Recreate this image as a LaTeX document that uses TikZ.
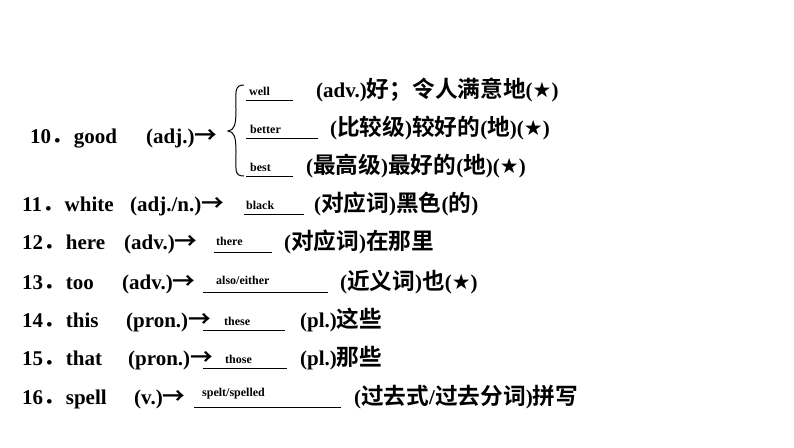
\documentclass[tikz,border=0pt]{standalone}
\usepackage{fontspec}
\setmainfont{Liberation Serif}
\newfontfamily\cjk{Noto Sans CJK SC}[BoldFont={* Bold},Scale=1.08]
\newfontfamily\sym{DejaVu Sans}
\newcommand{\C}[1]{{\cjk\bfseries #1}}
\newcommand{\St}{{\sym ★}}
\newcommand{\Ar}{{\cjk\bfseries →}}
\newcommand{\Dt}{{\cjk\bfseries ．}}
\begin{document}
\begin{tikzpicture}[x=1pt,y=-1pt,
  txt/.style={anchor=base west,inner sep=0pt,font=\fontsize{21}{24}\selectfont\bfseries},
  ans/.style={anchor=base west,inner sep=0pt,font=\fontsize{12}{14}\selectfont\bfseries},
  ul/.style={line width=1pt}]
\useasboundingbox[fill=white] (0,0) rectangle (794,447);
% row 10
\node[txt] (n10) at (30,143) {10\Dt good};
\node[txt] (p10) at (146,143) {(adj.)\Ar};
\draw[line width=1pt] (244,85) .. controls (234,85) and (236,92) .. (236,110) .. controls (236,126) and (234,130) .. (228,131) .. controls (234,132) and (236,136) .. (236,152) .. controls (236,170) and (234,176) .. (244,176);
\node[ans] (a1) at (249,95) {well};
\draw[ul] (246,100) -- (293,100);
\node[txt] (t1) at (316,97) {(adv.)\C{好；令人满意地}(\St)};
\node[ans] (a2) at (250,133) {better};
\draw[ul] (246,138) -- (318,138);
\node[txt] (t2) at (330,135) {(\C{比较级})\C{较好的}(\C{地})(\St)};
\node[ans] (a3) at (250,171) {best};
\draw[ul] (246,176) -- (293,176);
\node[txt] (t3) at (306,173) {(\C{最高级})\C{最好的}(\C{地})(\St)};
% 11
\node[txt] (n11) at (22,211) {11\Dt white};
\node[txt] (p11) at (130,211) {(adj./n.)\Ar};
\node[ans] (a11) at (246,209) {black};
\draw[ul] (244,214) -- (304,214);
\node[txt] (t11) at (314,211) {(\C{对应词})\C{黑色}(\C{的})};
% 12
\node[txt] (n12) at (22,249) {12\Dt here};
\node[txt] (p12) at (124,249) {(adv.)\Ar};
\node[ans] (a12) at (216,245) {there};
\draw[ul] (214,252) -- (272,252);
\node[txt] (t12) at (284,249) {(\C{对应词})\C{在那里}};
% 13
\node[txt] (n13) at (22,289) {13\Dt too};
\node[txt] (p13) at (122,289) {(adv.)\Ar};
\node[ans] (a13) at (216,284) {also/either};
\draw[ul] (203,292) -- (328,292);
\node[txt] (t13) at (340,289) {(\C{近义词})\C{也}(\St)};
% 14
\node[txt] (n14) at (22,327) {14\Dt this};
\node[txt] (p14) at (126,327) {(pron.)\Ar};
\node[ans] (a14) at (224,325) {these};
\draw[ul] (203,330) -- (285,330);
\node[txt] (t14) at (300,327) {(pl.)\C{这些}};
% 15
\node[txt] (n15) at (22,365) {15\Dt that};
\node[txt] (p15) at (128,365) {(pron.)\Ar};
\node[ans] (a15) at (225,363) {those};
\draw[ul] (203,368) -- (287,368);
\node[txt] (t15) at (300,365) {(pl.)\C{那些}};
% 16
\node[txt] (n16) at (22,404) {16\Dt spell};
\node[txt] (p16) at (134,404) {(v.)\Ar};
\node[ans] (a16) at (202,396) {spelt/spelled};
\draw[ul] (194,407) -- (341,407);
\node[txt] (t16) at (354,404) {(\C{过去式}/\C{过去分词})\C{拼写}};
\end{tikzpicture}
\end{document}
